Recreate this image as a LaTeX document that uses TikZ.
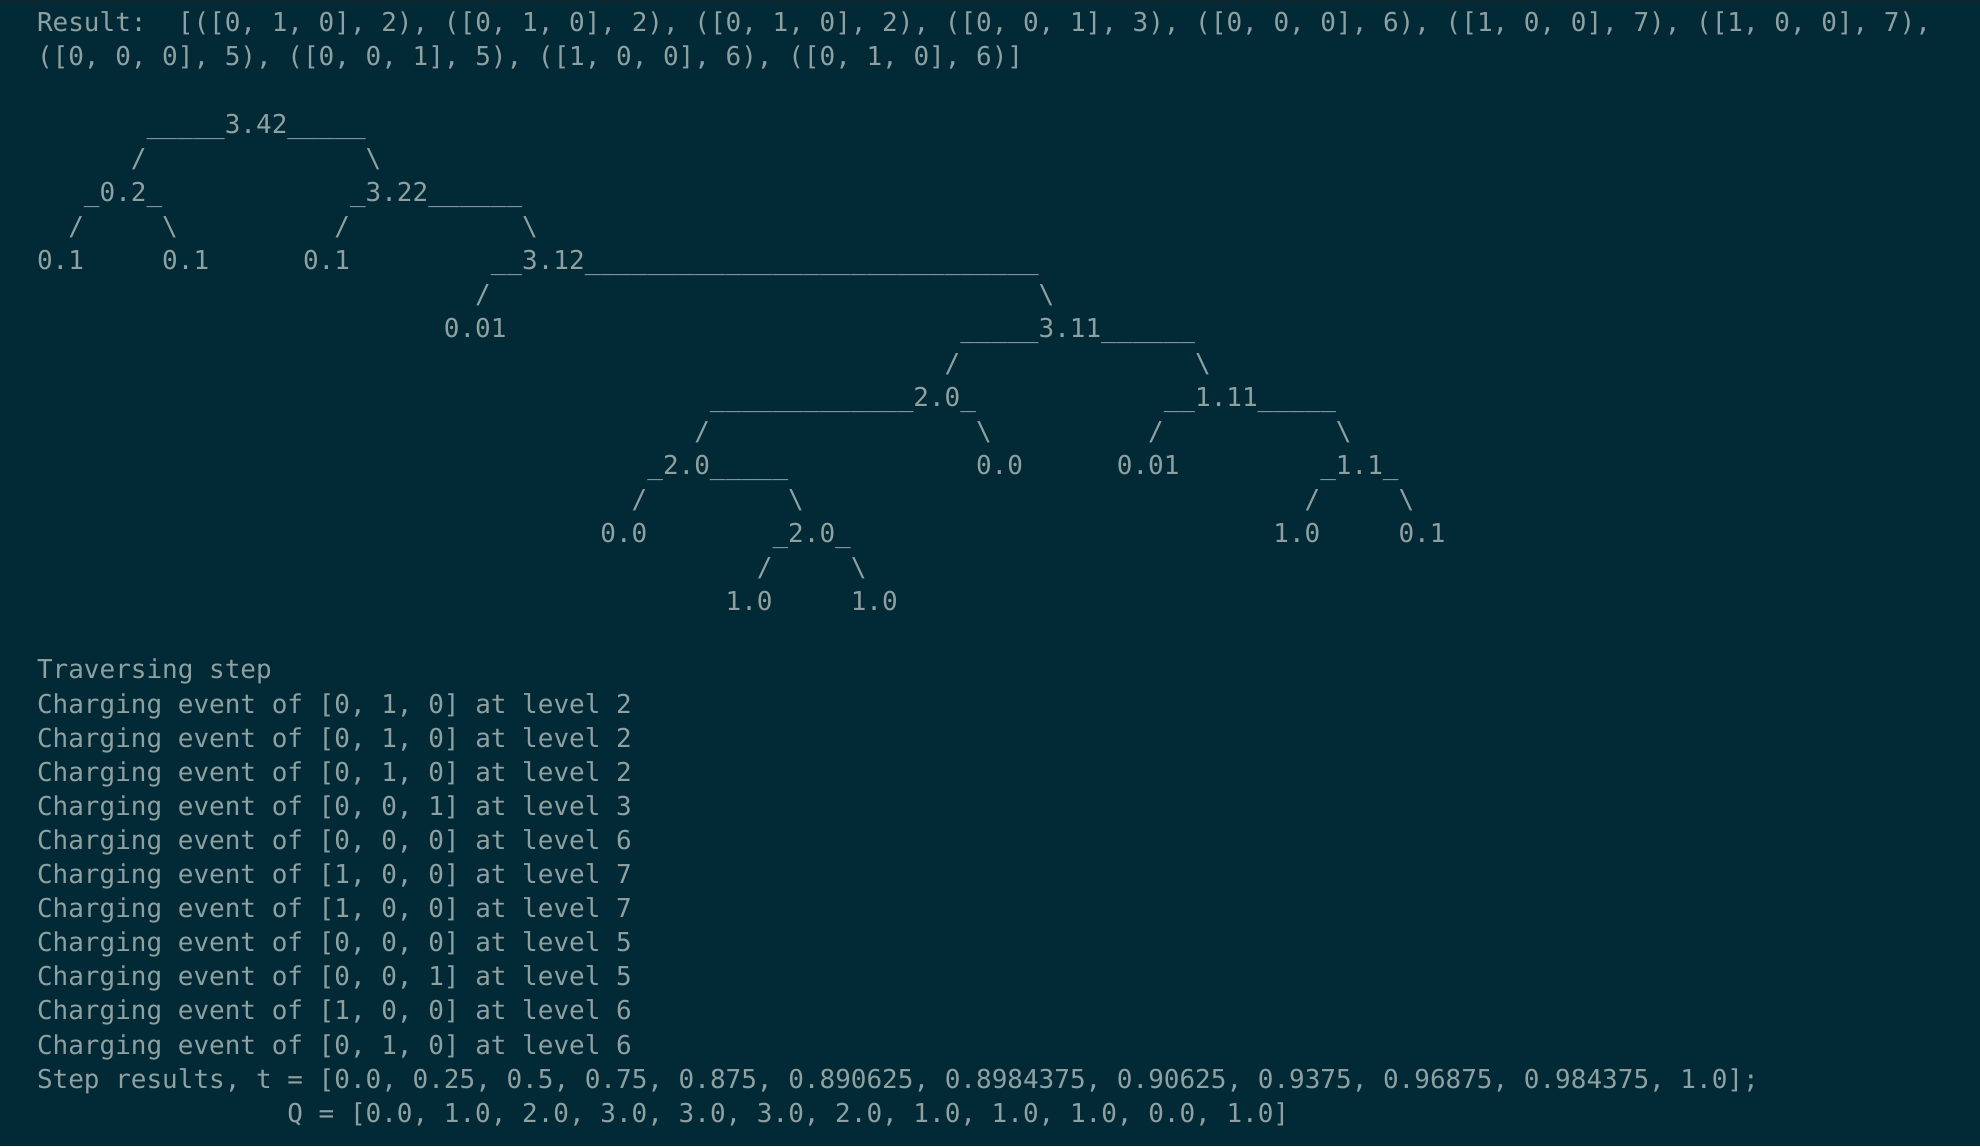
\documentclass[tikz,border=0pt]{standalone}
\usepackage{fontspec}
\setmonofont{DejaVu Sans Mono}[RawFeature=+zero]
\usepackage{tikz}
\definecolor{termbg}{HTML}{022A36}
\definecolor{termbar}{HTML}{0B2731}
\definecolor{termfg}{HTML}{8FA0A1}
\newcommand{\unders}[1]{\foreach\k in {1,...,#1}{\_}}
\tikzset{
    term/.style={anchor=base west, inner sep=0pt, outer sep=0pt, text=termfg,
      font=\ttfamily\fontsize{13}{16}\selectfont},
    tcell/.style 2 args={term, at={({37+15.65*#1},{-31-34.1*#2})}}
}
\frenchspacing
\begin{document}
\begin{tikzpicture}[x=0.5pt,y=0.5pt]
%%% FRAME %%%
\coordinate (NW) at (0,0); % top left corner
\coordinate (SE) at (1980,-1146); % bottom right corner
\useasboundingbox (NW) rectangle (SE);
\fill[termbg] (NW) rectangle (SE);
\fill[termbar] (NW) rectangle (1980,-4);

%%% RESULT LIST %%%
\node[tcell={0}{0}] (res1) {Result:\ \ [([0, 1, 0], 2), ([0, 1, 0], 2), ([0, 1, 0], 2), ([0, 0, 1], 3), ([0, 0, 0], 6), ([1, 0, 0], 7), ([1, 0, 0], 7),};
\node[tcell={0}{1}] (res2) {([0, 0, 0], 5), ([0, 0, 1], 5), ([1, 0, 0], 6), ([0, 1, 0], 6)]};

%%% THE TREE %%%
% level 0
\node[tcell={7}{3}] (n342) {\unders{5}3.42\unders{5}};
\node[tcell={6}{4}] (e342l) {/};
\node[tcell={21}{4}] (e342r) {\textbackslash};
% level 1
\node[tcell={3}{5}] (n02) {\_0.2\_};
\node[tcell={20}{5}] (n322) {\_3.22\unders{6}};
\node[tcell={2}{6}] (e02l) {/};
\node[tcell={8}{6}] (e02r) {\textbackslash};
\node[tcell={19}{6}] (e322l) {/};
\node[tcell={31}{6}] (e322r) {\textbackslash};
% level 2
\node[tcell={0}{7}] (n01a) {0.1};
\node[tcell={8}{7}] (n01b) {0.1};
\node[tcell={17}{7}] (n01c) {0.1};
\node[tcell={29}{7}] (n312) {\_\_3.12\unders{29}};
\node[tcell={28}{8}] (e312l) {/};
\node[tcell={64}{8}] (e312r) {\textbackslash};
% level 3
\node[tcell={26}{9}] (n001a) {0.01};
\node[tcell={59}{9}] (n311) {\unders{5}3.11\unders{6}};
\node[tcell={58}{10}] (e311l) {/};
\node[tcell={74}{10}] (e311r) {\textbackslash};
% level 4
\node[tcell={43}{11}] (n20a) {\unders{13}2.0\_};
\node[tcell={72}{11}] (n111) {\_\_1.11\unders{5}};
\node[tcell={42}{12}] (e20al) {/};
\node[tcell={60}{12}] (e20ar) {\textbackslash};
\node[tcell={71}{12}] (e111l) {/};
\node[tcell={83}{12}] (e111r) {\textbackslash};
% level 5
\node[tcell={39}{13}] (n20b) {\_2.0\unders{5}};
\node[tcell={60}{13}] (n00a) {0.0};
\node[tcell={69}{13}] (n001b) {0.01};
\node[tcell={82}{13}] (n11) {\_1.1\_};
\node[tcell={38}{14}] (e20bl) {/};
\node[tcell={48}{14}] (e20br) {\textbackslash};
\node[tcell={81}{14}] (e11l) {/};
\node[tcell={87}{14}] (e11r) {\textbackslash};
% level 6
\node[tcell={36}{15}] (n00b) {0.0};
\node[tcell={47}{15}] (n20c) {\_2.0\_};
\node[tcell={79}{15}] (n10a) {1.0};
\node[tcell={87}{15}] (n01d) {0.1};
\node[tcell={46}{16}] (e20cl) {/};
\node[tcell={52}{16}] (e20cr) {\textbackslash};
% level 7
\node[tcell={44}{17}] (n10b) {1.0};
\node[tcell={52}{17}] (n10c) {1.0};

%%% TRAVERSING %%%
\node[tcell={0}{19}] (trav) {Traversing step};
\node[tcell={0}{20}] (ch1) {Charging event of [0, 1, 0] at level 2};
\node[tcell={0}{21}] (ch2) {Charging event of [0, 1, 0] at level 2};
\node[tcell={0}{22}] (ch3) {Charging event of [0, 1, 0] at level 2};
\node[tcell={0}{23}] (ch4) {Charging event of [0, 0, 1] at level 3};
\node[tcell={0}{24}] (ch5) {Charging event of [0, 0, 0] at level 6};
\node[tcell={0}{25}] (ch6) {Charging event of [1, 0, 0] at level 7};
\node[tcell={0}{26}] (ch7) {Charging event of [1, 0, 0] at level 7};
\node[tcell={0}{27}] (ch8) {Charging event of [0, 0, 0] at level 5};
\node[tcell={0}{28}] (ch9) {Charging event of [0, 0, 1] at level 5};
\node[tcell={0}{29}] (ch10) {Charging event of [1, 0, 0] at level 6};
\node[tcell={0}{30}] (ch11) {Charging event of [0, 1, 0] at level 6};

%%% STEP RESULTS %%%
\node[tcell={0}{31}] (stept) {Step results, t = [0.0, 0.25, 0.5, 0.75, 0.875, 0.890625, 0.8984375, 0.90625, 0.9375, 0.96875, 0.984375, 1.0];};
\node[tcell={16}{32}] (stepq) {Q = [0.0, 1.0, 2.0, 3.0, 3.0, 3.0, 2.0, 1.0, 1.0, 1.0, 0.0, 1.0]};
\end{tikzpicture}
\end{document}
